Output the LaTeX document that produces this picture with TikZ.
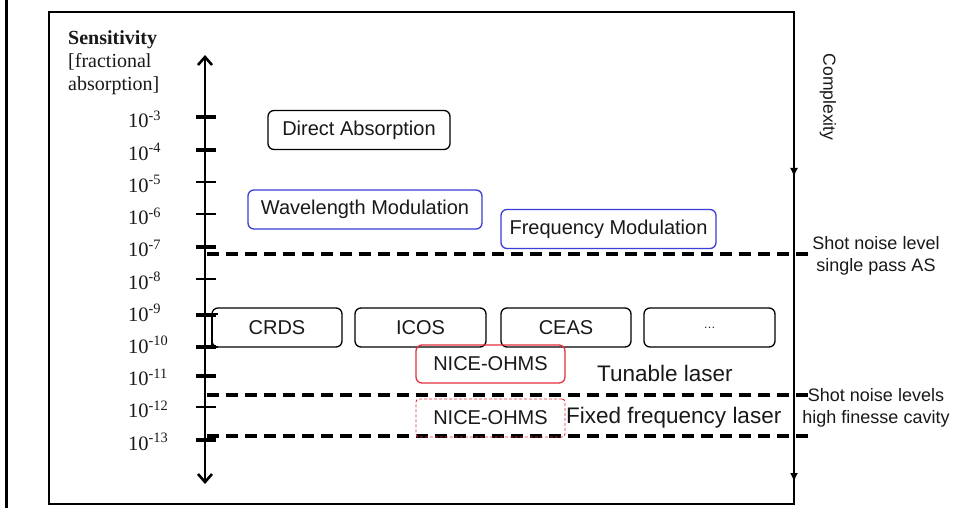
\documentclass[tikz,border=0pt]{standalone}
\usepackage{fontspec}
\setmainfont{Liberation Sans}
\newfontfamily\seriffont{Liberation Serif}
\usetikzlibrary{arrows.meta}
\definecolor{boxblue}{RGB}{60,60,215}
\definecolor{boxred}{RGB}{228,50,60}
\definecolor{txt}{RGB}{25,25,25}
\tikzset{
  meth/.style={draw, rounded corners=6pt, line width=1.3pt, text=txt, inner sep=0pt,
    font=\fontsize{20}{24}\selectfont, minimum height=39pt},
  bluebox/.style={meth, draw=boxblue},
  redbox/.style={meth, draw=boxred},
  reddash/.style={meth, draw=boxred, line width=0.9pt, dash pattern=on 3pt off 2pt, rounded corners=3pt},
  lab/.style={font=\seriffont\fontsize{20}{24}\selectfont, text=txt, inner sep=0pt},
  ticktag/.style={font=\seriffont\fontsize{20.5}{24}\selectfont, text=txt, inner sep=0pt, anchor=base west},
  tickmark/.style={line width=3.6pt},
  thintick/.style={line width=2.6pt},
  level/.style={line width=3.2pt, dash pattern=on 12pt off 7pt},
  note/.style={font=\fontsize{18}{21}\selectfont, text=txt, align=center, inner sep=0pt},
  big/.style={font=\fontsize{22.5}{26}\selectfont, text=txt, inner sep=0pt},
}
\begin{document}
\begin{tikzpicture}[x=1pt,y=-1pt]
\useasboundingbox (0,0) rectangle (956,508);
\fill[white] (0,0) rectangle (956,508);
% outer left line
\draw[line width=3pt] (6,0) -- (6,508);
% frame
\draw[line width=1.6pt] (49,12) rectangle (794,504);
% complexity arrow on the right edge
\coordinate (ctop) at (794,12);
\coordinate (cmid) at (794,177);
\coordinate (cbot) at (794,482);
\draw[line width=1.8pt, -{Latex[length=9pt,width=8pt]}] (ctop) -- (cmid);
\draw[line width=1.8pt, -{Latex[length=9pt,width=8pt]}] (cmid) -- (cbot);
\node[font=\fontsize{17.5}{20}\selectfont, text=txt, rotate=-90, inner sep=0pt] (cx) at (828,97) {Complexity};

% sensitivity axis
\coordinate (atop) at (205,55);
\coordinate (abot) at (205,484);
\draw[line width=2.6pt, {Straight Barb[length=8pt,width=14pt,line width=2.6pt]}-{Straight Barb[length=8pt,width=14pt,line width=2.6pt]}] (abot) -- (atop);
\node[lab, anchor=base west, font=\seriffont\bfseries\fontsize{20}{24}\selectfont] (s1) at (68,45) {Sensitivity};
\node[lab, anchor=base west] (s2) at (68,68) {[fractional};
\node[lab, anchor=base west] (s3) at (68,91) {absorption]};

% ticks
\draw[tickmark] (196,117) -- (216,117);
\draw[tickmark] (196,150) -- (216,150);
\draw[thintick] (196,182) -- (216,182);
\draw[thintick] (196,214) -- (216,214);
\draw[tickmark] (196,247) -- (216,247);
\draw[thintick] (196,279) -- (216,279);
\draw[tickmark] (196,315) -- (216,315);
\draw[tickmark] (196,347) -- (216,347);
\draw[tickmark] (196,376) -- (216,376);
\draw[thintick] (196,407) -- (216,407);
\draw[tickmark] (196,440) -- (216,440);

% tick labels
\node[ticktag] (t3) at (128,128) {10\textsuperscript{-3}};
\node[ticktag] (t4) at (128,160.2) {10\textsuperscript{-4}};
\node[ticktag] (t5) at (128,192.4) {10\textsuperscript{-5}};
\node[ticktag] (t6) at (128,224.6) {10\textsuperscript{-6}};
\node[ticktag] (t7) at (128,256.8) {10\textsuperscript{-7}};
\node[ticktag] (t8) at (128,289) {10\textsuperscript{-8}};
\node[ticktag] (t9) at (128,321.2) {10\textsuperscript{-9}};
\node[ticktag] (t10) at (128,353.4) {10\textsuperscript{-10}};
\node[ticktag] (t11) at (128,385.6) {10\textsuperscript{-11}};
\node[ticktag] (t12) at (128,417.8) {10\textsuperscript{-12}};
\node[ticktag] (t13) at (128,450) {10\textsuperscript{-13}};

% level lines
\draw[level] (207,254) -- (808,254);
\draw[level] (207,395) -- (808,395);
\draw[level] (207,436) -- (808,436);
\node[note] (n1) at (876,256) {Shot noise level\\[1pt]single pass AS};
\node[note] (n2) at (876,408) {Shot noise levels\\[1pt]high finesse cavity};

% methods
\node[meth, minimum width=182pt] (da) at (359,130) {Direct Absorption};
\node[bluebox, minimum width=234pt] (wm) at (365,209.5) {Wavelength Modulation};
\node[bluebox, minimum width=215pt] (fm) at (608.5,229) {Frequency Modulation};
\node[meth, minimum width=130pt] (crds) at (277,327.5) {CRDS};
\node[meth, minimum width=131pt] (icos) at (420.5,327.5) {ICOS};
\node[meth, minimum width=130pt] (ceas) at (566,327.5) {CEAS};
\node[meth, minimum width=131pt, font=\fontsize{12}{14}\selectfont] (etc) at (709.5,327.5) {\ldots};
\draw[line width=1.3pt] (218,314) -- (212,314) -- (212,347) -- (218,347);
\node[redbox, minimum width=149pt, minimum height=38pt] (no1) at (490.5,364) {NICE-OHMS};
\node[reddash, minimum width=149pt, minimum height=38pt] (no2) at (490.5,418) {NICE-OHMS};
\node[big, anchor=west] (tl) at (597,373) {Tunable laser};
\node[big, anchor=west] (ff) at (566,418) {Fixed frequency laser};
\end{tikzpicture}
\end{document}
